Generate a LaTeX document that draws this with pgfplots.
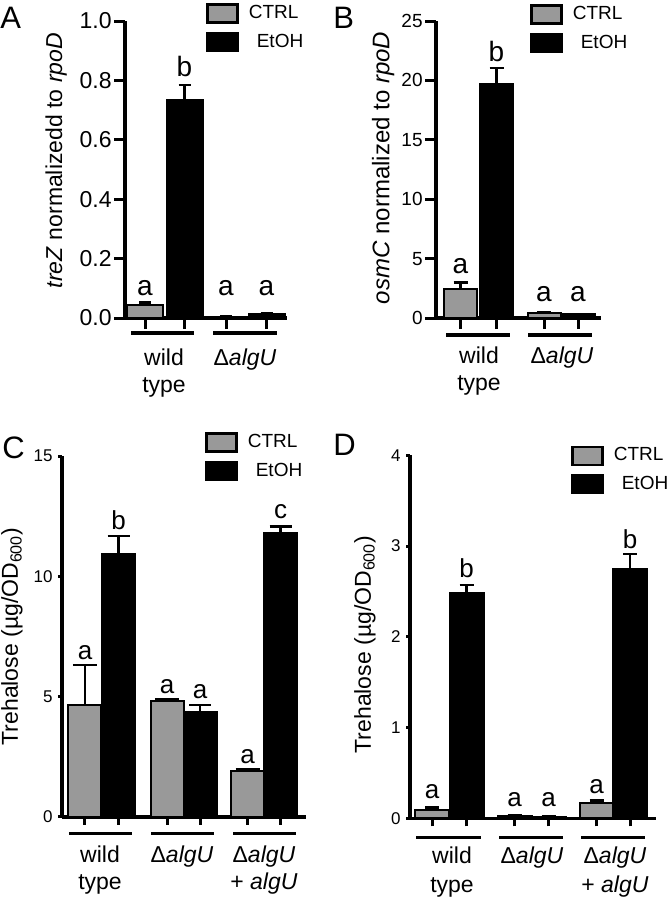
\documentclass[border=0pt]{standalone}
\usepackage{fontspec}
\setmainfont{Liberation Sans}
\usepackage{pgfplots}
\pgfplotsset{compat=1.18}
\definecolor{ctrlgray}{gray}{0.6}

\pgfplotsset{
  panel/.style={
    scale only axis, enlargelimits=false, clip=false,
    axis x line*=bottom, axis y line*=left,
    axis line style={line width=1.8pt, -},
    ybar, bar shift=0pt, ymin=0,
    tick align=outside,
    tick style={line width=1.5pt, black},
    xticklabels={},
    /pgf/number format/assume math mode=true,
    every axis y label/.style={rotate=90, anchor=center, font=\fontsize{11.5}{13}\selectfont},
    legend image code/.code={\draw[##1, line width=1.2pt] (0pt,-4.5pt) rectangle (15pt,4.5pt);},
    legend style={draw=none, fill=none, anchor=north west, font=\fontsize{9.5}{11}\selectfont,
      inner sep=0pt, row sep=4pt, column sep=5pt,
      nodes={inner sep=0pt}},
    legend cell align=left,
  },
  ctrl/.style={fill=ctrlgray, draw=black, line width=1pt, bar shift=0pt},
  etoh/.style={fill=black, draw=black, line width=1pt, bar shift=0pt},
  eb/.style={error bars/.cd, y dir=plus, y explicit,
    error bar style={line width=1.3pt, black},
    error mark options={rotate=90, mark size=#1, line width=1.3pt, black}},
  letters/.style={draw=none, fill=none, forget plot, bar shift=0pt, nodes near coords,
    point meta=explicit symbolic,
    nodes near coords style={anchor=base, inner sep=0pt, yshift=4pt, font=\fontsize{#1}{#1}\selectfont}},
}

\newcommand\grp[5]{%
  \draw[line width=1.6pt] ([yshift=-\ulsh]axis cs:#1,0) -- ([yshift=-\ulsh]axis cs:#2,0);
  \node[anchor=base, inner sep=0pt, font=\fontsize{11.5}{13}\selectfont] at ([yshift=-\bla]axis cs:#3,0) {#4};
  \node[anchor=base, inner sep=0pt, font=\fontsize{11.5}{13}\selectfont] at ([yshift=-\blb]axis cs:#3,0) {#5};}

\begin{document}
\begin{tikzpicture}
\path[use as bounding box] (0,0) rectangle (333pt,-450pt);

\node[anchor=base west, inner sep=0pt, font=\fontsize{15.5}{16}\selectfont] at (0pt,-14pt) {A};
\node[anchor=base west, inner sep=0pt, font=\fontsize{15.5}{16}\selectfont] at (166.5pt,-14pt) {B};
\node[anchor=base west, inner sep=0pt, font=\fontsize{15.5}{16}\selectfont] at (1pt,-229pt) {C};
\node[anchor=base west, inner sep=0pt, font=\fontsize{15.5}{16}\selectfont] at (166.5pt,-227.5pt) {D};

% ---------------- A
\def\ulsh{7.5pt}\def\bla{23.5pt}\def\blb{37pt}
\begin{axis}[panel, at={(62.5pt,-159pt)}, anchor=south west, width=81pt, height=148.5pt,
  xmin=125, xmax=287, ymax=1,
  ytick={0,0.2,0.4,0.6,0.8,1}, yticklabels={0.0,0.2,0.4,0.6,0.8,1.0},
  yticklabel style={font=\fontsize{11.5}{12}\selectfont, inner sep=1pt},
  major tick length=5.5pt,
  xtick={145,184.5,226,266.5}, bar width=36,
  ylabel={\textit{treZ} normalizedd to \textit{rpoD}},
  ylabel style={at={(axis description cs:-0.425,0.53)}},
  legend style={at={(axis cs:206,1.0606)}}]
\addplot[ctrl, eb=3pt] coordinates {(145,0.045) +- (0,0.008) (226,0.005) +- (0,0.001)};
\addplot[etoh, eb=3pt] coordinates {(184.5,0.735) +- (0,0.05) (266.5,0.012) +- (0,0.003)};
\addplot[letters=14] coordinates {(145,0.0505)[a] (184.5,0.785)[b] (226,0.0505)[a] (266.5,0.0505)[a]};
\legend{CTRL,\hspace{4pt}EtOH}
\grp{131}{194}{164}{wild}{type}
\grp{213}{277}{245}{Δ\textit{algU}}{}
\end{axis}

% ---------------- B
\def\ulsh{8.5pt}\def\bla{22.5pt}\def\blb{36pt}
\begin{axis}[panel, at={(218pt,-159pt)}, anchor=south west, width=82.5pt, height=148.5pt,
  xmin=436, xmax=601, ymax=25,
  ytick={0,5,10,15,20,25},
  yticklabel style={font=\fontsize{9.5}{10}\selectfont, inner sep=1pt},
  major tick length=5.5pt,
  xtick={460.5,496.5,544,578}, bar width=33,
  ylabel={\textit{osmC} normalized to \textit{rpoD}},
  ylabel style={at={(axis description cs:-0.32,0.505)}, font=\fontsize{12}{13}\selectfont},
  legend style={at={(axis cs:530,26.43)}}]
\addplot[ctrl, eb=3.5pt] coordinates {(460.5,2.4) +- (0,0.6) (544,0.4) +- (0,0.05)};
\addplot[etoh, eb=3.5pt] coordinates {(496.5,19.66) +- (0,1.4) (578,0.3) +- (0,0.04)};
\addplot[letters=14] coordinates {(460.5,3.1)[a] (496.5,20.9)[b] (544,0.7)[a] (578,0.7)[a]};
\legend{CTRL,\hspace{4pt}EtOH}
\grp{446}{510}{479}{wild}{type}
\grp{528}{592}{562}{Δ\textit{algU}}{}
\end{axis}

% ---------------- C
\def\ulsh{8.5pt}\def\bla{23pt}\def\blb{36.5pt}
\begin{axis}[panel, at={(31pt,-408.4pt)}, anchor=south west, width=122pt, height=180.4pt,
  xmin=61, xmax=305, ymax=15,
  ytick={0,5,10,15},
  yticklabel style={font=\fontsize{8.5}{9}\selectfont, inner sep=0.5pt},
  major tick length=4pt,
  y tick style={/pgfplots/major tick length=1.8pt},
  xtick={84,117.5,166,199,246.5,279.5}, bar width=33,
  ylabel={Trehalose (µg/OD\textsubscript{600})},
  ylabel style={at={(axis description cs:-0.205,0.5)}},
  legend style={at={(axis cs:204,16.0)}}]
\addplot[ctrl, eb=6pt] coordinates {(84,4.65) +- (0,1.66) (166,4.83) +- (0,0.07) (246.5,1.91) +- (0,0.08)};
\addplot[etoh, eb=5.5pt] coordinates {(117.5,10.93) +- (0,0.75) (199,4.34) +- (0,0.31) (279.5,11.81) +- (0,0.25)};
\addplot[letters=13] coordinates {(84,6.19)[a] (117.5,11.6)[b] (166,4.8)[a] (199,4.59)[a] (246.5,1.89)[a] (279.5,12.08)[c]};
\legend{CTRL,\hspace{4pt}EtOH}
\grp{68}{131}{99}{wild}{type}
\grp{150}{213}{181}{Δ\textit{algU}}{}
\grp{232}{295}{263}{Δ\textit{algU}}{+ \textit{algU}}
\end{axis}

% ---------------- D
\def\ulsh{9.5pt}\def\bla{22.5pt}\def\blb{37pt}
\begin{axis}[panel, at={(205pt,-409.2pt)}, anchor=south west, width=123pt, height=181.6pt,
  xmin=410, xmax=656, ymax=4,
  ytick={0,1,2,3,4},
  yticklabel style={font=\fontsize{8.5}{9}\selectfont, inner sep=0.5pt},
  major tick length=4pt,
  y tick style={/pgfplots/major tick length=1.8pt},
  xtick={432,466.5,514.5,548.5,596.5,630}, bar width=34,
  ylabel={Trehalose (µg/OD\textsubscript{600})},
  ylabel style={at={(axis description cs:-0.183,0.479)}},
  legend style={at={(axis cs:571,4.11)}}]
\addplot[ctrl, eb=3.5pt] coordinates {(432,0.09) +- (0,0.03) (514.5,0.03) +- (0,0.005) (596.5,0.165) +- (0,0.035)};
\addplot[etoh, eb=3.5pt] coordinates {(466.5,2.48) +- (0,0.09) (548.5,0.02) +- (0,0.005) (630,2.75) +- (0,0.16)};
\addplot[letters=13] coordinates {(432,0.13)[a] (466.5,2.57)[b] (514.5,0.04)[a] (548.5,0.04)[a] (596.5,0.19)[a] (630,2.885)[b]};
\legend{CTRL,\hspace{4pt}EtOH}
\grp{416}{481}{452}{wild}{type}
\grp{499}{563}{532}{Δ\textit{algU}}{}
\grp{581}{645}{615}{Δ\textit{algU}}{+ \textit{algU}}
\end{axis}
\end{tikzpicture}
\end{document}
